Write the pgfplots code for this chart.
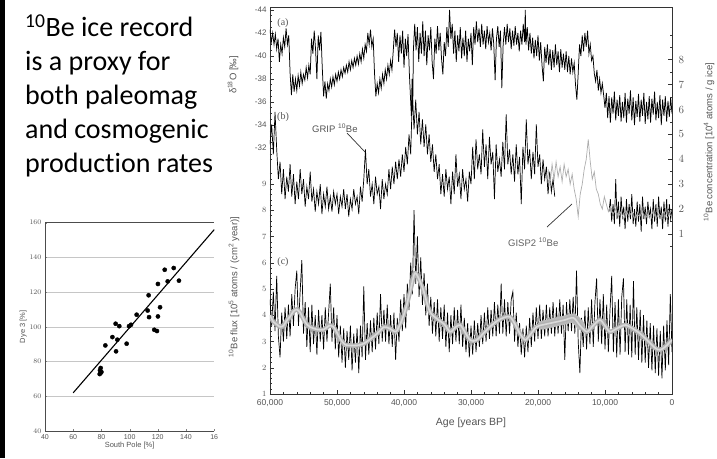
\documentclass[border=0pt]{standalone}
\usepackage{fontspec}
\setmainfont{Carlito}[Ligatures=NoCommon]
\newfontfamily\arialf{Liberation Sans}
\newfontfamily\timesf{Liberation Serif}
\usepackage{pgfplots}
\pgfplotsset{compat=1.18}
\definecolor{txtgray}{gray}{0.33}
\definecolor{gispgray}{gray}{0.68}

\pgfplotsset{
  mainax/.style={at={(270pt,64pt)}, anchor=south west, scale only axis,
    width=402pt, height=387pt, xmin=0, xmax=60, x dir=reverse,
    tick align=inside, major tick length=4pt, minor tick length=2pt,
    tick style={black!80, line width=0.5pt},
    tick label style={font=\arialf\fontsize{8}{10}\selectfont, text=txtgray},
    axis line style={black!80, line width=0.6pt}},
}

\begin{document}
\begin{tikzpicture}[x=1pt,y=1pt]
\path[use as bounding box] (0,0) rectangle (717,458);
\fill[black] (0,0) rectangle (4.5,458);

% slide text
\begin{scope}[every node/.style={anchor=base west, inner sep=0, font=\fontsize{28}{32}\selectfont}]
\node at (25,421.3) {\textsuperscript{10}Be ice record};
\node at (25,387.3) {is a proxy for};
\node at (25,353.3) {both paleomag};
\node at (25,319.3) {and cosmogenic};
\node at (25,285.3) {production rates};
\end{scope}

% scatter: Dye 3 vs South Pole
\begin{axis}[at={(45pt,27pt)}, anchor=south west, scale only axis,
  width=169.2pt, height=208.3pt, xmin=40, xmax=160, ymin=40, ymax=160,
  xtick={40,60,...,160}, xticklabels={40,60,80,100,120,140,16},
  ytick={40,60,...,160}, xtick pos=left, ytick pos=left,
  tick align=inside, major tick length=2pt,
  ymajorgrids, grid style={gray!45, line width=0.5pt},
  axis line style={draw=none},
  tick label style={font=\arialf\fontsize{7}{8}\selectfont, text=txtgray},
  xlabel={South Pole [\%]}, ylabel={Dye 3 [\%]},
  label style={font=\arialf\fontsize{7.5}{9}\selectfont, text=txtgray},
  xlabel style={yshift=4pt}, ylabel style={yshift=-4pt},
  clip=false]
\draw[black!70, line width=0.6pt] (rel axis cs:1,0) -- (rel axis cs:0,0) -- (rel axis cs:0,1) -- (rel axis cs:1,1);
\addplot[black, line width=1.1pt] coordinates {(60,62) (160,156)};
\addplot[only marks, mark=*, mark size=2.1pt, black] coordinates {
(124.9,132.9) (131.3,133.9) (127.0,126.2) (135.0,126.6) (113.5,118.2) (120.1,124.7)
(121.6,111.3) (112.8,109.4) (113.8,105.6) (120.1,106.0) (117.5,98.3) (119.4,97.6)
(105.0,107.0) (99.6,100.4) (101.0,101.2) (90.1,101.8) (92.7,100.4) (87.8,94.1)
(91.3,92.6) (97.9,90.3) (82.8,89.3) (90.4,85.9) (79.5,76.3) (79.0,75.0) (79.5,73.5)
(80.0,74.0) (78.8,72.8)};
\end{axis}

% (a) d18O, frame and age axis
\begin{axis}[mainax, ymin=-44.26, ymax=-10.61, y dir=reverse,
  ytick={-44,-42,...,-32}, yticklabels={-44,-42,-40,-38,-36,-34,-32},
  minor ytick={-44,-43.5,...,-31}, ytick pos=left,
  xtick={0,10,...,60}, xticklabels={0,{10,000},{20,000},{30,000},{40,000},{50,000},{60,000}},
  minor xtick={2,4,...,58}, xtick pos=left,
  xticklabel style={yshift=-2pt, font=\arialf\fontsize{8.5}{10}\selectfont},
  xlabel={Age [years BP]}, xlabel style={font=\arialf\fontsize{10.5}{12}\selectfont, text=txtgray, yshift=-4pt}]
\addplot[black, line width=0.75pt] coordinates {
(60,-42.3)(59.8,-41.2)(59.6,-42)(59.4,-41)(59.2,-41.9)(59,-40.6)(58.8,-41.5)(58.6,-39.5)(58.4,-41)(58.2,-40.2)(58,-41.6)(57.8,-40.8)(57.6,-42.4)(57.4,-41)(57.2,-41.8)(57,-38.5)(56.8,-36.6)(56.6,-38.4)(56.4,-36.9)(56.2,-38)(56,-37)(55.8,-38.3)(55.6,-37.4)(55.4,-38.6)(55.2,-37.6)(55,-38.4)(54.8,-37.9)(54.6,-39)(54.4,-38.1)(54.2,-39.2)(54,-38.4)(53.8,-41.5)(53.6,-40.2)(53.4,-42.2)(53.2,-40.6)(53,-38)(52.8,-41.8)(52.6,-40.5)(52.4,-42.1)(52.2,-39)(52,-36.5)(51.8,-37.8)(51.6,-36.3)(51.4,-37.6)(51.2,-37)(51,-38)(50.8,-37.3)(50.6,-38.2)(50.4,-37.5)(50.2,-38.4)(50,-37.8)(49.8,-38.6)(49.6,-38)(49.4,-38.8)(49.2,-38.2)(49,-39)(48.8,-38.5)(48.6,-39.2)(48.4,-38.6)(48.2,-39.5)(48,-38.8)(47.8,-39.6)(47.6,-39)(47.4,-39.8)(47.2,-39.2)(47,-40)(46.8,-39.3)(46.6,-40.2)(46.4,-39.5)(46.2,-40.6)(46,-39.8)(45.8,-41)(45.6,-40.4)(45.4,-42)(45.2,-41)(45,-42.3)(44.8,-40.8)(44.6,-41.5)(44.4,-38.5)(44.2,-36.5)(44,-37.6)(43.8,-36.8)(43.6,-38)(43.4,-37.2)(43.2,-38.4)(43,-37.6)(42.8,-38.8)(42.6,-38)(42.4,-39.2)(42.2,-38.4)(42,-39.6)(41.8,-38.8)(41.6,-40.5)(41.4,-42.3)(41.2,-40.8)(41,-42)(40.8,-39.5)(40.6,-41.8)(40.4,-40.2)(40.2,-42.2)(40,-39)(39.8,-41.5)(39.6,-40)(39.4,-41.9)(39.2,-38.5)(39,-36)(38.9,-34.8)(38.8,-38)(38.7,-35.2)(38.6,-40.5)(38.4,-42.8)(38.2,-40.5)(38,-42.5)(37.8,-39.5)(37.6,-42)(37.4,-40.2)(37.2,-43)(37,-40)(36.8,-42.2)(36.6,-39.2)(36.4,-41.8)(36.2,-40.5)(36,-42.5)(35.8,-39.5)(35.6,-38)(35.4,-41.5)(35.2,-40.2)(35,-42.6)(34.8,-40.5)(34.6,-42)(34.4,-39.8)(34.2,-38.4)(34,-41.2)(33.8,-40)(33.6,-42.5)(33.4,-40.8)(33.2,-44)(33,-41.5)(32.8,-42.8)(32.6,-40.2)(32.4,-42.2)(32.2,-39.5)(32,-41.8)(31.8,-40.4)(31.6,-42.5)(31.4,-39.8)(31.2,-41.6)(31,-40)(30.8,-42.2)(30.6,-39.5)(30.4,-41.5)(30.2,-40.4)(30,-42)(29.8,-39.2)(29.6,-42.5)(29.4,-41)(29.2,-43)(29,-41.2)(28.8,-42.4)(28.6,-40.8)(28.4,-42.8)(28.2,-41)(28,-42.2)(27.8,-40.6)(27.6,-42.6)(27.4,-41.2)(27.2,-42)(27,-40.5)(26.8,-42.4)(26.6,-41)(26.4,-37.9)(26.2,-41.5)(26,-42.6)(25.8,-40.8)(25.6,-42.2)(25.4,-37.2)(25.2,-41)(25,-42.5)(24.8,-41)(24.6,-42.8)(24.4,-41.2)(24.2,-42.4)(24,-40.6)(23.8,-42.2)(23.6,-40.9)(23.4,-42.6)(23.2,-41)(23,-42)(22.8,-40.4)(22.6,-42.2)(22.4,-41)(22.2,-42.8)(22,-41.2)(21.9,-44)(21.8,-41)(21.6,-42.5)(21.4,-40.5)(21.2,-42)(21,-40.2)(20.8,-41.6)(20.6,-39.8)(20.4,-41.4)(20.2,-40)(20,-41.8)(19.8,-39.6)(19.6,-41.2)(19.4,-39.2)(19.2,-37.8)(19,-40.8)(18.8,-39.4)(18.6,-41)(18.4,-39.2)(18.2,-40.6)(18,-38.8)(17.8,-40.5)(17.6,-39)(17.4,-41)(17.2,-39.2)(17,-40.4)(16.8,-38.6)(16.6,-40.6)(16.4,-39)(16.2,-40.2)(16,-38.8)(15.8,-40.4)(15.6,-38.6)(15.4,-40)(15.2,-38.4)(15,-39.8)(14.8,-38.6)(14.6,-39.4)(14.4,-37.5)(14.2,-36.2)(14,-38.5)(13.8,-41)(13.6,-40)(13.4,-41.8)(13.2,-40.4)(13,-42)(12.8,-40.8)(12.6,-42.2)(12.4,-40.2)(12.2,-41)(12,-39.6)(11.8,-40)(11.6,-38.5)(11.4,-37.8)(11.2,-38.8)(11,-37)(10.8,-38)(10.6,-36.8)(10.4,-37.6)(10.2,-36.6)(10,-35.5)(9.8,-36.8)(9.6,-34.6)(9.4,-36.5)(9.2,-34.2)(9,-36.4)(8.8,-35)(8.6,-36.9)(8.4,-34.4)(8.2,-36.2)(8,-34.8)(7.8,-36.6)(7.6,-34.3)(7.4,-36)(7.2,-34.6)(7,-36.8)(6.8,-34.2)(6.6,-36.3)(6.4,-35)(6.2,-37)(6,-34.4)(5.8,-36.4)(5.6,-34)(5.4,-36.1)(5.2,-34.7)(5,-36.7)(4.8,-34.3)(4.6,-36.2)(4.4,-34.8)(4.2,-36.8)(4,-34.1)(3.8,-36)(3.6,-34.5)(3.4,-36.5)(3.2,-34.2)(3,-36.3)(2.8,-34.9)(2.6,-36.9)(2.4,-34.4)(2.2,-36)(2,-34.6)(1.8,-36.6)(1.6,-34)(1.4,-36.2)(1.2,-34.8)(1,-36.5)(0.8,-34.3)(0.6,-36.1)(0.4,-34.7)(0.2,-36.4)(0,-35)};
\end{axis}

% (b) 10Be concentration, right axis
\begin{axis}[mainax, ymin=-5.426, ymax=10.116, axis line style={draw=none},
  xtick=\empty, ytick={1,...,8}, minor ytick={0.5,1,...,9},
  ytick pos=right, yticklabel pos=right,
  yticklabel style={font=\arialf\fontsize{10.5}{12}\selectfont, xshift=3pt}]
\addplot[black, line width=0.7pt] coordinates {
(60,4.6)(59.75,5.4)(59.5,4.2)(59.25,5.9)(59,4.4)(58.75,3.2)(58.5,3.9)(58.25,2.6)(58,3.6)(57.75,2.4)(57.5,3.3)(57.25,2.7)(57,3.8)(56.75,2.5)(56.5,3.4)(56.25,2.2)(56,3.1)(55.75,2.4)(55.5,3.6)(55.25,2.6)(55,3.2)(54.75,2.1)(54.5,2.9)(54.25,2.4)(54,3.5)(53.75,2.3)(53.5,2.8)(53.25,1.9)(53,2.7)(52.75,2.2)(52.5,3)(52.25,1.8)(52,2.6)(51.75,2.1)(51.5,2.9)(51.25,2)(51,2.5)(50.75,1.9)(50.5,2.7)(50.25,2.2)(50,2.6)(49.75,1.8)(49.5,2.5)(49.25,2.1)(49,2.8)(48.75,2)(48.5,2.6)(48.25,1.7)(48,2.4)(47.75,2)(47.5,2.8)(47.25,2.2)(47,2.5)(46.75,1.8)(46.5,2.9)(46.25,2.3)(46,3.2)(45.75,4.4)(45.5,3)(45.25,3.6)(45,2.5)(44.75,3)(44.5,2.2)(44.25,3.3)(44,2.6)(43.75,2.9)(43.5,2)(43.25,3.2)(43,2.4)(42.75,3)(42.5,2.6)(42.25,3.6)(42,2.8)(41.75,3.7)(41.5,3)(41.25,3.9)(41,3.2)(40.75,4)(40.5,3.3)(40.25,4.2)(40,3.5)(39.75,4.5)(39.5,3.8)(39.25,5)(39,4.2)(38.75,6.6)(38.5,5.2)(38.25,6.4)(38,5)(37.75,5.9)(37.5,4.6)(37.25,5.6)(37,4.5)(36.75,5.4)(36.5,4.2)(36.25,5)(36,3.9)(35.75,4.6)(35.5,3.5)(35.25,4.2)(35,3.2)(34.75,3.8)(34.5,2.6)(34.25,3.4)(34,2.5)(33.75,3.6)(33.5,2.8)(33.25,3.3)(33,2.2)(32.75,3.5)(32.5,2.6)(32.25,4.2)(32,2.9)(31.75,3.4)(31.5,2.4)(31.25,3.6)(31,2.8)(30.75,3.2)(30.5,2.3)(30.25,3.5)(30,3)(29.75,4.5)(29.5,3.2)(29.25,4.8)(29,3.6)(28.75,4.2)(28.5,3.4)(28.25,5.2)(28,3.7)(27.75,4.6)(27.5,3.2)(27.25,4.9)(27,3.8)(26.75,4.3)(26.5,2.4)(26.25,4.6)(26,3.5)(25.75,4)(25.5,3.3)(25.25,4.7)(25,3.6)(24.75,5.8)(24.5,3.8)(24.25,4.4)(24,3.4)(23.75,4.2)(23.5,3.1)(23.25,4.6)(23,3.4)(22.75,4.1)(22.5,2.2)(22.25,4.5)(22,3.6)(21.75,5.6)(21.5,3.8)(21.25,4.4)(21,3.2)(20.75,4.3)(20.5,3.4)(20.25,5.4)(20,3.7)(19.75,4.2)(19.5,3)(19.25,4)(19,3.2)(18.75,3.7)(18.5,2.6)(18.25,3.5)(18,2.7)(17.75,3.2)(17.5,2.5)};
\addplot[black, line width=0.7pt] coordinates {
(9.4,1.9)(9.2,2.4)(9,1.5)(8.8,2.2)(8.6,1.4)(8.4,3.2)(8.2,1.6)(8,2.3)(7.8,1.3)(7.6,2.5)(7.4,1.7)(7.2,2.1)(7,1.2)(6.8,2.4)(6.6,1.5)(6.4,2.2)(6.2,1.6)(6,2.6)(5.8,1.4)(5.6,2)(5.4,1.3)(5.2,2.3)(5,1.5)(4.8,2.2)(4.6,1.1)(4.4,2.5)(4.2,1.6)(4,2.1)(3.8,1.4)(3.6,2.3)(3.4,1.7)(3.2,2)(3,1.2)(2.8,2.4)(2.6,1.5)(2.4,2.2)(2.2,1.3)(2,2.5)(1.8,1.6)(1.6,2.1)(1.4,1.2)(1.2,2.3)(1,1.5)(0.8,2.4)(0.6,1.3)(0.4,2.2)(0.2,1.6)(0,2)};
\addplot[gispgray, line width=0.7pt] coordinates {
(18.5,3.6)(18.2,3)(17.9,3.8)(17.6,3.2)(17.3,3.9)(17,3.3)(16.7,3.7)(16.4,3.1)(16.1,3.8)(15.8,3.3)(15.5,3.6)(15.2,3)(14.9,3.4)(14.6,2.8)(14.3,2.4)(14,1.7)(13.7,2.6)(13.4,3)(13.1,3.6)(12.8,4)(12.5,4.8)(12.2,3.9)(11.9,3.2)(11.6,3.5)(11.3,2.8)(11,2.6)(10.7,2.2)(10.4,2)(10.1,2.5)(9.8,2.2)(9.5,1.9)(9.2,2.1)(8.8,1.8)(8.4,2)(8,1.7)(7.6,1.9)(7.2,1.6)(6.8,1.9)(6.4,1.7)(6,1.9)(5.6,1.6)(5.2,1.8)(4.8,1.7)(4.4,1.9)(4,1.6)(3.6,1.8)(3.2,1.7)(2.8,1.9)(2.4,1.6)(2,1.8)(1.6,1.7)(1.2,1.9)(0.8,1.6)(0.4,1.8)(0,1.7)};
\end{axis}

% (c) 10Be flux
\begin{axis}[mainax, ymin=1, ymax=15.743, axis line style={draw=none},
  xtick=\empty, ytick={1,...,9}, minor ytick={1,1.2,...,9.4}, ytick pos=left]
\addplot[black, line width=0.7pt] coordinates {
(60,4.6)(59.75,3.6)(59.5,4.9)(59.25,3.4)(59,5.5)(58.75,3.2)(58.5,2.4)(58.25,4.1)(58,3)(57.75,4.3)(57.5,3.1)(57.25,4.4)(57,3.2)(56.75,4.8)(56.5,3.6)(56.25,5)(56,5.7)(55.75,3.6)(55.5,4.9)(55.25,6.1)(55,3.3)(54.75,4.5)(54.5,2.8)(54.25,4.3)(54,2.6)(53.75,4.4)(53.5,2.9)(53.25,4)(53,2.5)(52.75,4.2)(52.5,3)(52.25,4)(52,2.7)(51.75,4.3)(51.5,3)(51.25,4.1)(51,5.2)(50.75,3)(50.5,4.3)(50.25,2.7)(50,4)(49.75,2.4)(49.5,3.6)(49.25,2.2)(49,3.5)(48.75,2)(48.5,3.4)(48.25,2.3)(48,3.6)(47.75,1.9)(47.5,3.3)(47.25,2.2)(47,3.5)(46.75,1.8)(46.5,3.6)(46.25,2.4)(46,5.1)(45.75,2.3)(45.5,3.7)(45.25,2.5)(45,3.8)(44.75,2.6)(44.5,3.9)(44.25,2.7)(44,4.1)(43.75,2.9)(43.5,4.8)(43.25,3)(43,4.2)(42.75,3)(42.5,4.4)(42.25,2.9)(42,4)(41.75,2.8)(41.5,4.1)(41.25,2.3)(41,3.9)(40.75,3)(40.5,4.6)(40.25,3.4)(40,4.8)(39.75,3.5)(39.5,5.2)(39.25,4.2)(39,6)(38.75,4.8)(38.5,8)(38.25,5.2)(38,7)(37.75,4.7)(37.5,6.2)(37.25,4.4)(37,5.6)(36.75,4)(36.5,5.2)(36.25,3.6)(36,4.7)(35.75,3.3)(35.5,4.5)(35.25,3.2)(35,4.6)(34.75,3)(34.5,4.3)(34.25,3.1)(34,4.4)(33.75,2.8)(33.5,4.1)(33.25,2.6)(33,4)(32.75,2.9)(32.5,4.3)(32.25,3)(32,4.2)(31.75,2.9)(31.5,4.4)(31.25,2.8)(31,3.9)(30.75,2.6)(30.5,3.7)(30.25,2.4)(30,3.6)(29.75,2.5)(29.5,3.8)(29.25,2.6)(29,3.7)(28.75,2.8)(28.5,4)(28.25,2.9)(28,4.1)(27.75,3)(27.5,4.3)(27.25,3.1)(27,4.2)(26.75,3.2)(26.5,4.5)(26.25,3.2)(26,4.4)(25.75,3.3)(25.5,5.2)(25.25,3.3)(25,4.6)(24.75,3.2)(24.5,4.5)(24.25,3.3)(24,4.6)(23.75,4.9)(23.5,3)(23.25,4.1)(23,2.8)(22.75,3.7)(22.5,2.5)(22.25,3.5)(22,2.4)(21.75,3.6)(21.5,2.6)(21.25,3.9)(21,2.8)(20.75,4.1)(20.5,3)(20.25,4.3)(20,3.1)(19.75,4.4)(19.5,3.1)(19.25,4.2)(19,3.2)(18.75,4.4)(18.5,3.2)(18.25,4.3)(18,3.3)(17.75,4.5)(17.5,3.2)(17.25,4.3)(17,3.3)(16.75,4.6)(16.5,3.3)(16.25,4.4)(16,2.3)(15.75,4.5)(15.5,3.4)(15.25,4.6)(15,3.4)(14.75,4.7)(14.5,3.3)(14.25,5.7)(14,3)(13.75,1.8)(13.5,3.9)(13.25,2.8)(13,4.2)(12.75,2.7)(12.5,4.3)(12.25,2.9)(12,4.6)(11.75,2.8)(11.5,4.5)(11.25,5.4)(11,3)(10.75,4.6)(10.5,2.9)(10.25,4.8)(10,2.7)(9.75,4.4)(9.5,2.6)(9.25,4.2)(9,5.5)(8.75,2.6)(8.5,4.5)(8.25,2.4)(8,4.6)(7.75,2.5)(7.5,4.7)(7.25,5.4)(7,2.6)(6.75,4.6)(6.5,2.5)(6.25,4.4)(6,2.4)(5.75,5.3)(5.5,2.5)(5.25,4.3)(5,2.3)(4.75,4.2)(4.5,2.2)(4.25,4)(4,2.2)(3.75,3.8)(3.5,2)(3.25,3.7)(3,1.9)(2.75,3.6)(2.5,1.8)(2.25,3.5)(2,1.7)(1.75,3.4)(1.5,1.6)(1.25,3.6)(1,1.9)(0.75,3.8)(0.5,2.1)(0.25,4.8)(0,2.6)};
\addplot[gray!55, line width=9pt, line cap=round, smooth] coordinates {
(19.4,3.62)(17.2,3.75)(16,3.82)(14.7,3.88)(13.6,3.6)};
\addplot[gray!60, line width=4.5pt, smooth] coordinates {
(60,4)(59.5,3.75)(59,3.65)(58.5,3.56)(58,3.6)(57.5,3.8)(57,3.95)(56.5,4.15)(56,4.22)(55.5,4.1)(55,3.85)(54.5,3.65)(54,3.55)(53,3.46)(52,3.45)(51.2,3.6)(50.5,3.55)(49.5,3.1)(48.8,2.88)(48,2.85)(47,2.85)(46,2.92)(45,3.1)(44,3.3)(43,3.55)(42.2,3.5)(41.2,3.38)(40.5,3.7)(39.8,4.2)(39,5)(38.4,5.6)(37.8,5.4)(37.1,4.95)(36.5,4.4)(36,4.08)(35,3.85)(34,3.66)(33.1,3.37)(32.3,3.55)(31.6,3.63)(31,3.4)(30.1,3.05)(29.2,3.05)(28,3.35)(27,3.6)(26,3.8)(25,3.92)(24.2,3.94)(23.5,3.7)(22.7,3.3)(21.9,3.06)(21.2,3.25)(20.2,3.56)(19,3.65)(17.2,3.75)(16,3.82)(14.7,3.9)(13.7,3.6)(12.7,3.37)(11.8,3.6)(10.75,3.82)(10,3.6)(9.25,3.37)(8.2,3.5)(7,3.63)(5.9,3.5)(4.8,3.31)(3.5,3)(2.5,2.75)(1.8,2.68)(1,2.8)(0,3.06)};
\addplot[gray!30, line width=1.6pt, smooth] coordinates {
(60,4)(59.5,3.75)(59,3.65)(58.5,3.56)(58,3.6)(57.5,3.8)(57,3.95)(56.5,4.15)(56,4.22)(55.5,4.1)(55,3.85)(54.5,3.65)(54,3.55)(53,3.46)(52,3.45)(51.2,3.6)(50.5,3.55)(49.5,3.1)(48.8,2.88)(48,2.85)(47,2.85)(46,2.92)(45,3.1)(44,3.3)(43,3.55)(42.2,3.5)(41.2,3.38)(40.5,3.7)(39.8,4.2)(39,5)(38.4,5.6)(37.8,5.4)(37.1,4.95)(36.5,4.4)(36,4.08)(35,3.85)(34,3.66)(33.1,3.37)(32.3,3.55)(31.6,3.63)(31,3.4)(30.1,3.05)(29.2,3.05)(28,3.35)(27,3.6)(26,3.8)(25,3.92)(24.2,3.94)(23.5,3.7)(22.7,3.3)(21.9,3.06)(21.2,3.25)(20.2,3.56)(19,3.65)(17.2,3.75)(16,3.82)(14.7,3.9)(13.7,3.6)(12.7,3.37)(11.8,3.6)(10.75,3.82)(10,3.6)(9.25,3.37)(8.2,3.5)(7,3.63)(5.9,3.5)(4.8,3.31)(3.5,3)(2.5,2.75)(1.8,2.68)(1,2.8)(0,3.06)};
\end{axis}

% axis titles and annotations
\begin{scope}[every node/.style={font=\arialf\fontsize{9.5}{10}\selectfont, text=txtgray, inner sep=0}]
\node[rotate=90] at (233,383) {δ\textsuperscript{18}O [‰]};
\node[rotate=90] at (234,171) {\textsuperscript{10}Be flux [10\textsuperscript{5} atoms / (cm\textsuperscript{2} year)]};
\node[rotate=90] at (709,316) {\textsuperscript{10}Be concentration [10\textsuperscript{4} atoms / g ice]};
\node[anchor=west, font=\arialf\fontsize{9.5}{10}\selectfont] at (312,330) {GRIP \textsuperscript{10}Be};
\node[anchor=west, font=\arialf\fontsize{9.5}{10}\selectfont, text=gray!75!black] at (508,216) {GISP2 \textsuperscript{10}Be};
\node[font=\timesf\fontsize{10}{10}\selectfont] at (283,435) {(a)};
\node[font=\timesf\fontsize{10}{10}\selectfont] at (283,341) {(b)};
\node[font=\timesf\fontsize{10}{10}\selectfont] at (283,196) {(c)};
\end{scope}
\draw[black!80, line width=0.7pt] (347,325) -- (365,306);
\draw[black!80, line width=0.7pt] (547,231) -- (572,254);
\end{tikzpicture}
\end{document}
